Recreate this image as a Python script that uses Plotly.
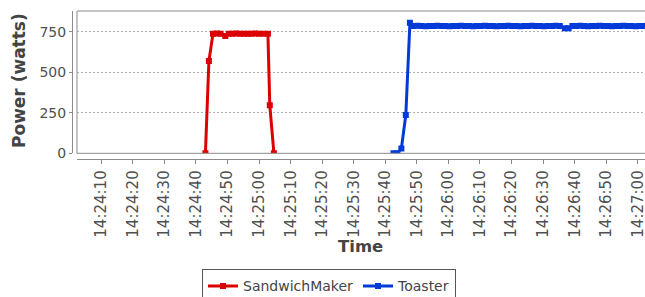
import datetime as dt
import plotly.graph_objects as go

# ---------------- data ----------------
series_names = ["SandwichMaker", "Toaster"]
series_colors = ["#dc0000", "#003ad8"]

# seconds after 14:24:00
sandwich_secs = [43.0, 44.1, 45.4, 46.6, 47.8, 49.3, 50.4, 51.6, 52.8, 54.0,
                 55.2, 56.4, 57.6, 58.8, 60.0, 61.4, 62.8, 63.4, 64.7]
sandwich_watts = [0, 569, 738, 739, 737, 723, 738, 738, 739, 738,
                  737, 738, 738, 739, 738, 738, 738, 296, 0]

toaster_secs = [102.6, 103.8, 105.1, 106.5, 107.8,
                109.0, 110.3, 111.5, 112.8, 114.0, 115.3, 116.5, 117.8,
                119.0, 120.3, 121.5, 122.8, 124.0, 125.3, 126.5, 127.8,
                129.0, 130.3, 131.5, 132.8, 134.0, 135.3, 136.5, 137.8,
                139.0, 140.3, 141.5, 142.8, 144.0, 145.3, 146.5, 147.8,
                149.0, 150.3, 151.5, 152.8, 154.0, 155.3, 156.9, 158.1,
                159.3, 160.5, 161.8, 163.0, 164.3, 165.5, 166.8, 168.0,
                169.3, 170.5, 171.8, 173.0, 174.3, 175.5, 176.8, 178.0,
                179.3, 180.5, 181.8, 183.0, 184.3]
toaster_watts = [0, 0, 30, 236, 805,
                 785, 786, 785, 784, 785, 785, 786, 785,
                 785, 784, 785, 785, 786, 785, 785, 784,
                 785, 785, 786, 785, 785, 784, 785, 785,
                 786, 785, 785, 784, 785, 785, 786, 785,
                 785, 784, 785, 785, 786, 785, 771, 771,
                 785, 785, 786, 785, 784, 785, 785, 786,
                 785, 785, 784, 785, 785, 786, 785, 785,
                 784, 785, 785, 786, 785]

x_tick_labels = ["14:24:10", "14:24:20", "14:24:30", "14:24:40", "14:24:50",
                 "14:25:00", "14:25:10", "14:25:20", "14:25:30", "14:25:40",
                 "14:25:50", "14:26:00", "14:26:10", "14:26:20", "14:26:30",
                 "14:26:40", "14:26:50", "14:27:00"]
y_tick_vals = [0, 250, 500, 750]

x_range_secs = [2.3, 182.3]
y_range = [0, 877.7]

# ---------------- helpers ----------------
BASE = dt.datetime(2020, 1, 1, 14, 24, 0)


def to_time(s):
    return (BASE + dt.timedelta(seconds=s)).strftime("%Y-%m-%d %H:%M:%S.%f")[:-3]


def label_to_time(lbl):
    h, m, s = (int(p) for p in lbl.split(":"))
    return dt.datetime(2020, 1, 1, h, m, s).strftime("%Y-%m-%d %H:%M:%S")


W, H = 645, 297
FONT = "DejaVu Sans"
TXT = "#444444"
AXC = "#8a8a8a"

x0 = 77 / W
y_bot = (H - 153.3) / H
y_top = (H - 11) / H
x_axis_pos = (H - 159.3) / H
y_axis_pos = 72 / W

fig = go.Figure()
for name, color, secs, watts in [
    (series_names[0], series_colors[0], sandwich_secs, sandwich_watts),
    (series_names[1], series_colors[1], toaster_secs, toaster_watts),
]:
    fig.add_trace(go.Scatter(
        x=[to_time(s) for s in secs], y=watts, name=name,
        mode="lines+markers",
        line=dict(color=color, width=3),
        marker=dict(color=color, symbol="square", size=6, line=dict(width=0)),
    ))

fig.update_layout(
    width=W, height=H,
    margin=dict(l=0, r=0, t=0, b=0, autoexpand=False),
    paper_bgcolor="white", plot_bgcolor="white",
    font=dict(family=FONT, size=14, color=TXT),
    showlegend=True,
    legend=dict(
        orientation="h", x=329 / W, xanchor="center",
        y=(H - 269.3) / H, yanchor="top",
        bordercolor="#555555", borderwidth=1, bgcolor="white",
        font=dict(family=FONT, size=14, color=TXT),
        itemwidth=30, tracegroupgap=0,
    ),
    xaxis=dict(
        type="date", domain=[x0, 1], anchor="free", position=x_axis_pos,
        range=[to_time(x_range_secs[0]), to_time(x_range_secs[1])],
        tickvals=[label_to_time(t) for t in x_tick_labels],
        ticktext=x_tick_labels, tickangle=-90, ticklabeloverflow="allow",
        ticks="outside", ticklen=4, tickcolor=AXC, tickwidth=1,
        showline=True, linecolor=AXC, linewidth=1,
        showgrid=False, zeroline=False,
        tickfont=dict(family=FONT, size=15, color="#505050"),
    ),
    yaxis=dict(
        domain=[y_bot, y_top], anchor="free", position=y_axis_pos,
        range=y_range, tickvals=y_tick_vals,
        ticks="outside", ticklen=3, tickcolor=AXC, tickwidth=1,
        showline=True, linecolor=AXC, linewidth=1,
        showgrid=True, gridcolor="#b0b0b0", gridwidth=1, griddash="2px,2px",
        zeroline=False,
        tickfont=dict(family=FONT, size=14, color="#505050"),
    ),
    shapes=[
        dict(type="line", xref="paper", yref="paper", x0=x0, x1=1, y0=y_top, y1=y_top,
             line=dict(color=AXC, width=1), layer="above"),
        dict(type="line", xref="paper", yref="paper", x0=x0, x1=x0, y0=y_bot, y1=y_top,
             line=dict(color=AXC, width=1), layer="above"),
        dict(type="line", xref="paper", yref="paper", x0=x0, x1=1, y0=y_bot, y1=y_bot,
             line=dict(color=AXC, width=1), layer="above"),
    ],
    annotations=[
        dict(text="<b>Time</b>", xref="paper", yref="paper",
             x=(x0 + 1) / 2, y=(H - 246.5) / H, xanchor="center", yanchor="middle",
             showarrow=False, font=dict(family=FONT, size=16.5, color=TXT)),
        dict(text="<b>Power (watts)</b>", xref="paper", yref="paper", textangle=-90,
             x=19 / W, y=(H - 81) / H, xanchor="center", yanchor="middle",
             showarrow=False, font=dict(family=FONT, size=17, color=TXT)),
    ],
)

fig.write_html(
    "out.html",
    config={"displayModeBar": False},
    post_script="document.body.style.margin='0';document.body.style.overflow='hidden';",
)
